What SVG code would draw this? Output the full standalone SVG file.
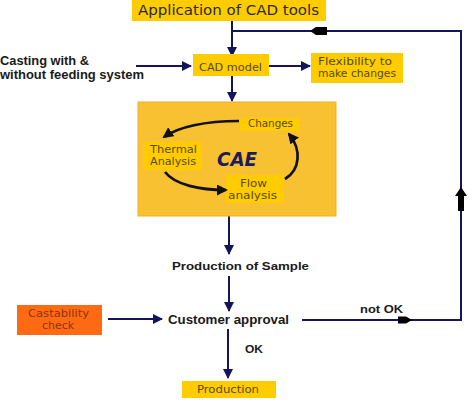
<svg xmlns="http://www.w3.org/2000/svg" width="474" height="402" viewBox="0 0 474 402">
<style>
.box{fill:#FFCC00}
.t{font-family:"DejaVu Sans",sans-serif;fill:#5a4a12}
.b{font-family:"Liberation Sans",Arial,sans-serif;font-weight:bold;fill:#1a1a1a}
.ln{fill:none;stroke:#14145e;stroke-width:2}
.cv{fill:none;stroke:#111;stroke-width:2.7}
</style>
<defs>
<marker id="ah" markerWidth="10" markerHeight="10" refX="9" refY="5" orient="auto" markerUnits="userSpaceOnUse">
<path d="M0,0 L10,5 L0,10 Z" fill="#14145e"/>
</marker>
<marker id="ak" markerWidth="11" markerHeight="11" refX="9" refY="5.5" orient="auto" markerUnits="userSpaceOnUse">
<path d="M0,0 L11,5.5 L0,11 Z" fill="#111"/>
</marker>
</defs>
<rect width="474" height="402" fill="#fff"/>
<g id="connectors">
<path class="ln" d="M232,20 V56" marker-end="url(#ah)"/>
<path class="ln" d="M232,31 H461 V320 H302"/>
<path class="ln" d="M136,66 H191" marker-end="url(#ah)"/>
<path class="ln" d="M269,66 H310" marker-end="url(#ah)"/>
<path class="ln" d="M232,76 V101" marker-end="url(#ah)"/>
<path class="ln" d="M229,216 V254" marker-end="url(#ah)"/>
<path class="ln" d="M229,276 V311" marker-end="url(#ah)"/>
<path class="ln" d="M108,319 H162" marker-end="url(#ah)"/>
<path class="ln" d="M228,329 V378" marker-end="url(#ah)"/>
<path d="M310,31 L316,27 H327 V35 H316 Z" fill="#000"/>
<path d="M412,320 L406,316.5 H398 V323.5 H406 Z" fill="#000"/>
<path d="M461,187 L467,196 H464 V211 H458 V196 H455 Z" fill="#000"/>
</g>
<g id="app"><rect class="box" x="132" y="0" width="194" height="21"/>
<text class="t" x="138" y="15" font-size="14" textLength="181" lengthAdjust="spacingAndGlyphs" style="fill:#2a2a2a">Application of CAD tools</text></g>
<g id="casting"><text class="b" x="0" y="65" font-size="12" textLength="89" lengthAdjust="spacingAndGlyphs">Casting with &amp;</text>
<text class="b" x="0" y="79" font-size="12" textLength="144" lengthAdjust="spacingAndGlyphs">without feeding system</text></g>
<g id="cad"><rect class="box" x="193" y="54" width="76" height="22"/>
<text class="t" x="199" y="71" font-size="11" textLength="63" lengthAdjust="spacingAndGlyphs">CAD model</text></g>
<g id="flex"><rect class="box" x="311" y="53" width="92" height="30"/>
<text class="t" x="318" y="65" font-size="10.5" textLength="74" lengthAdjust="spacingAndGlyphs">Flexibility to</text>
<text class="t" x="318" y="77" font-size="10.5" textLength="78" lengthAdjust="spacingAndGlyphs">make changes</text></g>
<g id="cae"><rect x="138" y="102" width="198" height="114" fill="#F8C132" stroke="#F2B01E" stroke-width="1"/>
<text x="217" y="166" font-family="DejaVu Sans,sans-serif" font-weight="bold" font-style="italic" font-size="20" fill="#1c1c5c" textLength="40" lengthAdjust="spacingAndGlyphs">CAE</text></g>
<g id="changes"><rect class="box" x="240" y="118" width="60" height="13"/>
<text class="t" x="248" y="127" font-size="10" textLength="45" lengthAdjust="spacingAndGlyphs">Changes</text></g>
<g id="thermal"><rect class="box" x="143" y="142" width="59" height="28"/>
<text class="t" x="150" y="153" font-size="10" textLength="47" lengthAdjust="spacingAndGlyphs">Thermal</text>
<text class="t" x="150" y="165" font-size="10" textLength="46" lengthAdjust="spacingAndGlyphs">Analysis</text></g>
<g id="flow"><rect class="box" x="226" y="175" width="58" height="28"/>
<text class="t" x="240" y="187" font-size="10" textLength="27" lengthAdjust="spacingAndGlyphs">Flow</text>
<text class="t" x="228" y="199" font-size="10" textLength="49" lengthAdjust="spacingAndGlyphs">analysis</text></g>
<g id="cycle">
<path class="cv" d="M239,121 C205,121 178,127 164,137" marker-end="url(#ak)"/>
<path class="cv" d="M165,172 C175,185 200,190 226,190" marker-end="url(#ak)"/>
<path class="cv" d="M285,179 C300,170 302,150 289,134" marker-end="url(#ak)"/>
</g>
<g id="sample"><text class="b" x="172" y="270" font-size="11.5" textLength="137" lengthAdjust="spacingAndGlyphs">Production of Sample</text></g>
<g id="castability"><rect x="17" y="305" width="85" height="30" fill="#FF6A13"/>
<text class="t" x="28" y="317" font-size="10" textLength="61" lengthAdjust="spacingAndGlyphs" style="fill:#8a3510">Castability</text>
<text class="t" x="42" y="329" font-size="10" textLength="32" lengthAdjust="spacingAndGlyphs" style="fill:#8a3510">check</text></g>
<g id="customer"><text class="b" x="168" y="324" font-size="12.5" textLength="121" lengthAdjust="spacingAndGlyphs">Customer approval</text></g>
<g id="labels"><text class="b" x="360" y="313" font-size="11.5" textLength="43" lengthAdjust="spacingAndGlyphs">not OK</text>
<text class="b" x="245" y="353" font-size="11.5" textLength="18" lengthAdjust="spacingAndGlyphs">OK</text></g>
<g id="production"><rect class="box" x="182" y="381" width="94" height="17"/>
<text class="t" x="197" y="393" font-size="10.5" textLength="62" lengthAdjust="spacingAndGlyphs">Production</text></g>
</svg>
